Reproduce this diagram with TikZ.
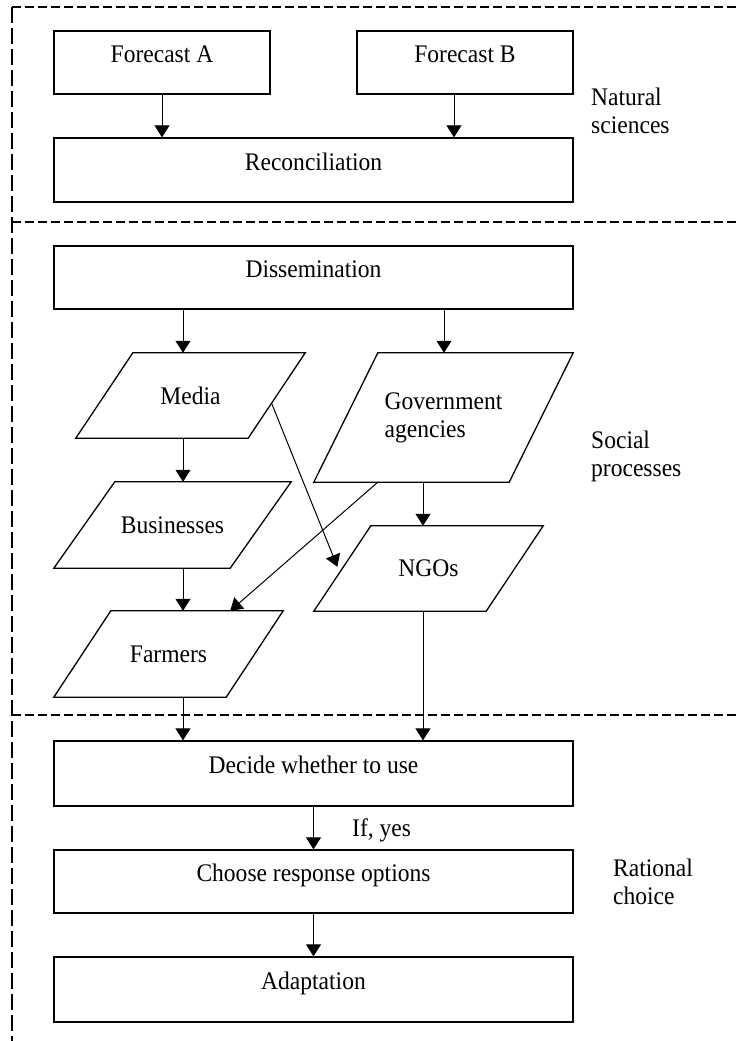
\documentclass[tikz,border=0pt]{standalone}
\usepackage{fontspec}
\setmainfont{Liberation Serif}[FakeStretch=0.93]
\usetikzlibrary{arrows.meta,calc}
\tikzset{
  box/.style={draw, line width=1.3pt, rectangle, inner sep=0pt, text height=17pt, text depth=17pt},
  parabox/.style={rectangle, inner sep=0pt},
  paraline/.style={line width=1.3pt, line join=miter},
  arr/.style={line width=1pt, -{Triangle[length=12pt,width=15pt]}},
  sect/.style={line width=1.2pt, dash pattern=on 9pt off 4pt},
  vsect/.style={line width=1.2pt, dash pattern=on 16pt off 5pt},
  lab/.style={align=left, anchor=west, inner sep=0pt}
}
\newcommand\drawpara[2]{\draw[paraline] (#1.south west) -- ([xshift=-#2pt]#1.south east) -- (#1.north east) -- ([xshift=#2pt]#1.north west) -- cycle;}
\begin{document}
\begin{tikzpicture}[x=1pt,y=-1pt,font=\fontsize{25.3}{28}\selectfont]
\useasboundingbox (0,0) rectangle (736,1041);
% section frames
\coordinate (tl) at (12,7);
\coordinate (tr) at (736,7);
\coordinate (bl) at (12,1041);
\coordinate (s1l) at (12,222);
\coordinate (s1r) at (736,222);
\coordinate (s2l) at (12,715);
\coordinate (s2r) at (736,715);
\draw[sect] (tl) -- (tr);
\draw[sect] (s1l) -- (s1r);
\draw[sect] (s2l) -- (s2r);
\draw[vsect] (tl) -- (bl);
% x guides
\coordinate (xA) at (183,0);
\coordinate (xB) at (423,0);
\coordinate (xC) at (444,0);
\coordinate (xD) at (454,0);
% boxes
\node[box, minimum width=216pt, minimum height=63pt] (fa) at (162,62.5) {Forecast A};
\node[box, minimum width=216pt, minimum height=63pt] (fb) at (465,62.5) {Forecast B};
\node[box, minimum width=519pt, minimum height=64pt] (rec) at (313.5,170) {Reconciliation};
\node[box, minimum width=519pt, minimum height=63pt] (dis) at (313.5,277.5) {Dissemination};
\node[box, minimum width=519pt, minimum height=65pt] (dec) at (313.5,773.5) {Decide whether to use};
\node[box, minimum width=519pt, minimum height=63pt] (cho) at (313.5,881.5) {Choose response options};
\node[box, minimum width=519pt, minimum height=65pt] (ada) at (313.5,989.5) {Adaptation};
% parallelograms
\node[parabox, minimum width=229pt, minimum height=85pt] (med) at (190.5,395.5) {Media};
\node[parabox, minimum width=259pt, minimum height=129pt, align=left] (gov) at (443.5,417.5) {Government\\agencies};
\node[parabox, minimum width=237pt, minimum height=86pt] (bus) at (172.5,525) {Businesses};
\node[parabox, minimum width=229pt, minimum height=85pt] (ngo) at (428.5,568.5) {NGOs};
\node[parabox, minimum width=229pt, minimum height=86pt] (far) at (168.5,654) {Farmers};
\drawpara{med}{57}
\drawpara{gov}{64}
\drawpara{bus}{61}
\drawpara{ngo}{57}
\drawpara{far}{57}
% labels
\node[lab] (nat) at (591,111) {Natural\\sciences};
\node[lab] (soc) at (591,456) {Social\\processes};
\node[lab] (rat) at (613,882) {Rational\\choice};
\node[lab] (ify) at (352,830) {If, yes};
% connectors
\draw[arr] (fa.south) -- (fa.south |- rec.north);
\draw[arr] (fb.south -| xD) -- (rec.north -| xD);
\draw[arr] (dis.south -| xC) -- (gov.north -| xC);
\draw[arr] (dis.south -| xA) -- (med.north -| xA);
\draw[arr] (med.south -| xA) -- (bus.north -| xA);
\draw[arr] (bus.south -| xA) -- (far.north -| xA);
\draw[arr] (gov.south -| xB) -- (ngo.north -| xB);
\draw[arr] ([xshift=64pt]gov.south west) -- ([xshift=-53pt]far.north east);
\draw[arr] ($(med.north east)!0.59!([xshift=-57pt]med.south east)$) -- ($([xshift=57pt]ngo.north west)!0.48!(ngo.south west)+(-6,0)$);
\draw[arr] (far.south -| xA) -- (dec.north -| xA);
\draw[arr] (ngo.south -| xB) -- (dec.north -| xB);
\draw[arr] (dec.south) -- (cho.north);
\draw[arr] (cho.south) -- (ada.north);
\end{tikzpicture}
\end{document}
